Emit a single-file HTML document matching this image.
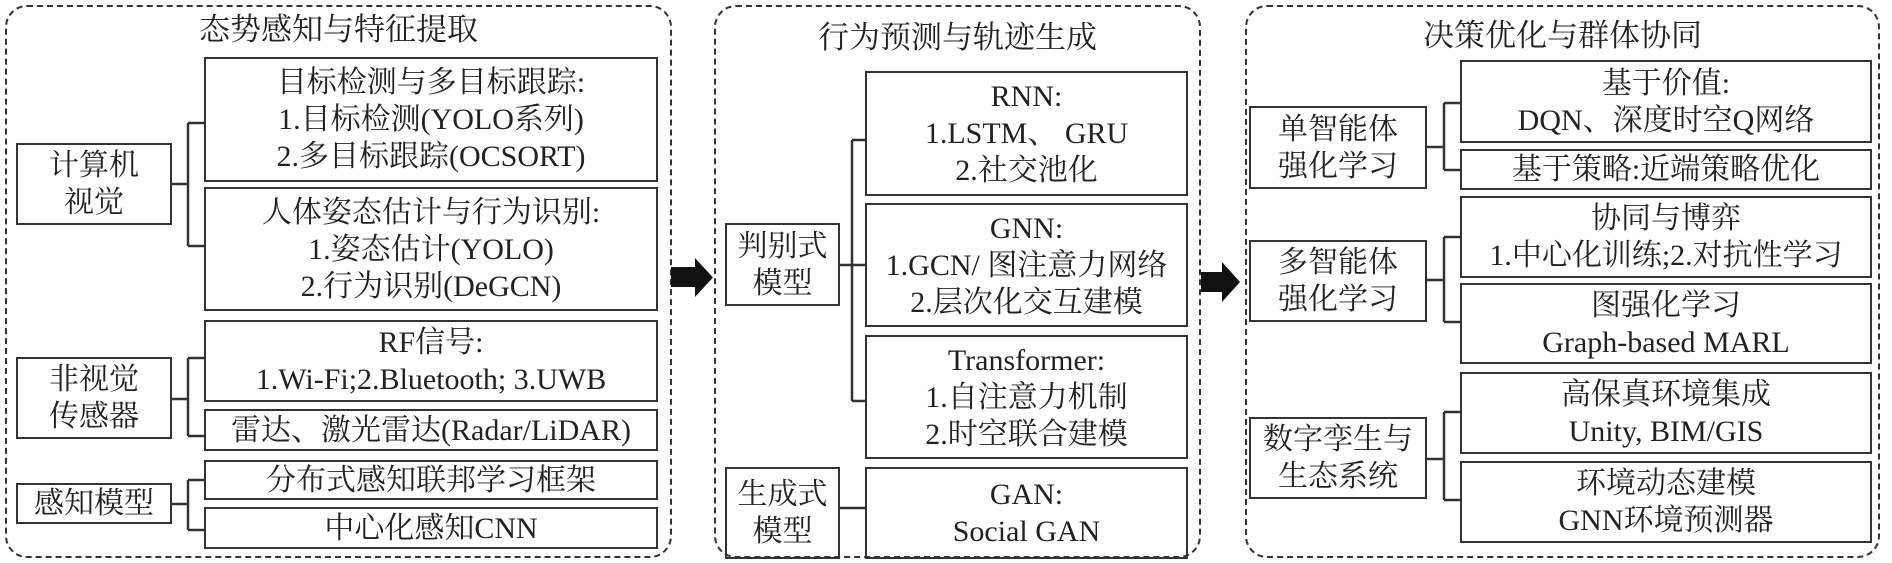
<!DOCTYPE html>
<html><head><meta charset="utf-8"><style>
body{margin:0;background:#fff;width:1892px;height:563px;position:relative;overflow:hidden;font-family:"Liberation Serif","Noto Serif CJK SC",serif;color:#222}
.p{position:absolute;border:2px dashed #333;border-radius:22px;box-sizing:border-box}
.t{position:absolute;text-align:center;font-size:31px;line-height:34px}
.b{position:absolute;border:2.5px solid #333;box-sizing:border-box;display:flex;align-items:center;justify-content:center;text-align:center;font-size:30px;line-height:37px;white-space:nowrap}
svg{position:absolute;left:0;top:0}
</style></head><body>
<div class="p" style="left:5px;top:5px;width:667px;height:553px"></div>
<div class="p" style="left:714px;top:5px;width:487px;height:553px"></div>
<div class="p" style="left:1245px;top:5px;width:635px;height:553px"></div>
<div class="t" style="left:5px;top:13px;width:667px">态势感知与特征提取</div>
<div class="t" style="left:714px;top:21px;width:487px">行为预测与轨迹生成</div>
<div class="t" style="left:1245px;top:19px;width:635px">决策优化与群体协同</div>

<div class="b" style="left:204px;top:57px;width:454px;height:125px">目标检测与多目标跟踪:<br>1.目标检测(YOLO系列)<br>2.多目标跟踪(OCSORT)</div>
<div class="b" style="left:204px;top:187px;width:454px;height:124px">人体姿态估计与行为识别:<br>1.姿态估计(YOLO)<br>2.行为识别(DeGCN)</div>
<div class="b" style="left:204px;top:320px;width:454px;height:82px">RF信号:<br>1.Wi-Fi;2.Bluetooth; 3.UWB</div>
<div class="b" style="left:204px;top:409px;width:454px;height:42px">雷达、激光雷达(Radar/LiDAR)</div>
<div class="b" style="left:204px;top:460px;width:454px;height:40px">分布式感知联邦学习框架</div>
<div class="b" style="left:204px;top:507px;width:454px;height:42px">中心化感知CNN</div>
<div class="b" style="left:16px;top:143px;width:156px;height:82px">计算机<br>视觉</div>
<div class="b" style="left:16px;top:357px;width:156px;height:82px">非视觉<br>传感器</div>
<div class="b" style="left:16px;top:483px;width:156px;height:41px">感知模型</div>

<div class="b" style="left:865px;top:71px;width:323px;height:125px">RNN:<br>1.LSTM、 GRU<br>2.社交池化</div>
<div class="b" style="left:865px;top:203px;width:323px;height:124px">GNN:<br>1.GCN/ 图注意力网络<br>2.层次化交互建模</div>
<div class="b" style="left:865px;top:335px;width:323px;height:124px">Transformer:<br>1.自注意力机制<br>2.时空联合建模</div>
<div class="b" style="left:865px;top:467px;width:323px;height:92px">GAN:<br>Social GAN</div>
<div class="b" style="left:725px;top:223px;width:115px;height:83px">判别式<br>模型</div>
<div class="b" style="left:725px;top:467px;width:115px;height:92px">生成式<br>模型</div>

<div class="b" style="left:1460px;top:60px;width:412px;height:83px">基于价值:<br>DQN、深度时空Q网络</div>
<div class="b" style="left:1460px;top:149px;width:412px;height:41px">基于策略:近端策略优化</div>
<div class="b" style="left:1460px;top:196px;width:412px;height:82px">协同与博弈<br>1.中心化训练;2.对抗性学习</div>
<div class="b" style="left:1460px;top:283px;width:412px;height:81px">图强化学习<br>Graph-based MARL</div>
<div class="b" style="left:1460px;top:372px;width:412px;height:82px">高保真环境集成<br>Unity, BIM/GIS</div>
<div class="b" style="left:1460px;top:461px;width:412px;height:82px">环境动态建模<br>GNN环境预测器</div>
<div class="b" style="left:1249px;top:106px;width:178px;height:83px">单智能体<br>强化学习</div>
<div class="b" style="left:1249px;top:240px;width:178px;height:82px">多智能体<br>强化学习</div>
<div class="b" style="left:1249px;top:417px;width:178px;height:82px">数字孪生与<br>生态系统</div>

<svg width="1892" height="563">
<g stroke="#333" stroke-width="2.5" fill="none">
<path d="M172 184H188M188 123V246M188 123H204M188 246H204"/>
<path d="M172 399H188M188 358V436M188 358H204M188 436H204"/>
<path d="M172 504H188M188 480V530M188 480H204M188 530H204"/>
<path d="M840 265H852M852 140V401M852 140H865M852 265H865M852 401H865"/>
<path d="M840 508H865"/>
<path d="M1427 147H1444M1444 103V170M1444 103H1460M1444 170H1460"/>
<path d="M1427 280H1444M1444 237V322M1444 237H1460M1444 322H1460"/>
<path d="M1427 459H1444M1444 412V500M1444 412H1460M1444 500H1460"/>
</g>
<polygon points="671,267 695,267 695,258 713,277.5 695,297 695,287 671,287" fill="#111"/>
<polygon points="1201,272 1222,272 1222,262 1240,282 1222,302 1222,292 1201,292" fill="#111"/>
</svg>
</body></html>
